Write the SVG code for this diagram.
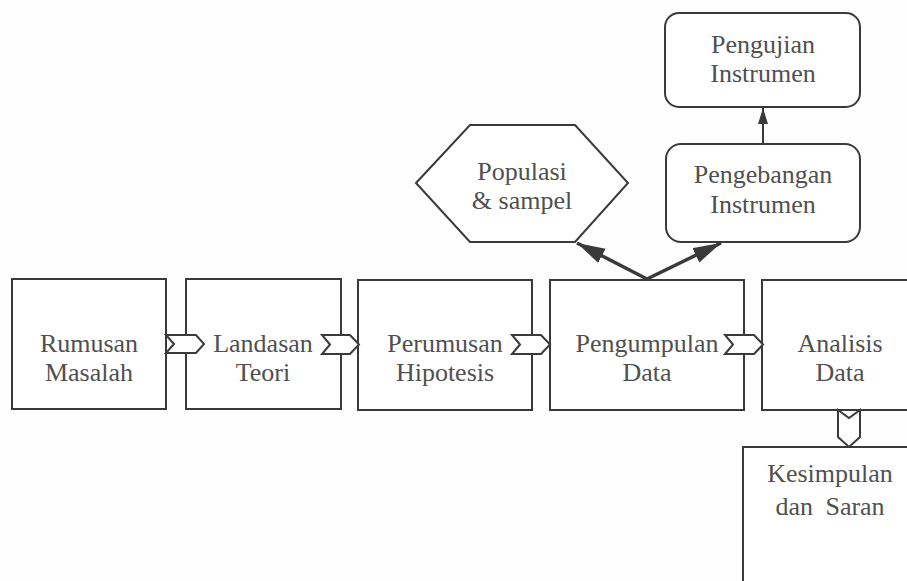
<svg xmlns="http://www.w3.org/2000/svg" width="907" height="581" viewBox="0 0 907 581">
<style>
.box{fill:#fff;stroke:#3a3a3a;stroke-width:2}
.chev{fill:#fff;stroke:#3a3a3a;stroke-width:2;stroke-linejoin:miter}
.t{font-family:"Liberation Serif","Times New Roman",serif;font-size:26px;fill:#505050;text-anchor:middle}
.arr{stroke:#3a3a3a;stroke-width:3.5;fill:none}
.arr2{stroke:#3a3a3a;stroke-width:2;fill:none}
</style>
<defs>
<marker id="ah" markerUnits="userSpaceOnUse" markerWidth="32" markerHeight="20" refX="28" refY="8" orient="auto">
<path d="M0,0 L28,8 L0,16 Z" fill="#3a3a3a"/>
</marker>
<marker id="ah2" markerUnits="userSpaceOnUse" markerWidth="20" markerHeight="12" refX="16" refY="5" orient="auto">
<path d="M0,0 L16,5 L0,10 Z" fill="#3a3a3a"/>
</marker>
</defs>
<rect width="907" height="581" fill="#fefefe"/>
<g id="pengujian">
<rect class="box" x="665" y="13" width="195" height="94" rx="14"/>
<text class="t" x="763" y="53">Pengujian</text>
<text class="t" x="763" y="82">Instrumen</text>
</g>
<g id="pengembangan">
<rect class="box" x="666" y="144" width="194" height="98" rx="15"/>
<text class="t" x="763" y="183">Pengebangan</text>
<text class="t" x="763" y="213">Instrumen</text>
</g>
<g id="populasi">
<polygon class="box" points="416,183 470,125 575,125 628,183 575,242 470,242"/>
<text class="t" x="522" y="180">Populasi</text>
<text class="t" x="522" y="209">&amp; sampel</text>
</g>
<g id="rumusan">
<rect class="box" x="12" y="279" width="154" height="130"/>
<text class="t" x="89" y="352">Rumusan</text>
<text class="t" x="89" y="381">Masalah</text>
</g>
<g id="landasan">
<rect class="box" x="186" y="279" width="155" height="130"/>
<text class="t" x="263" y="352">Landasan</text>
<text class="t" x="263" y="381">Teori</text>
</g>
<g id="perumusan">
<rect class="box" x="358" y="280" width="174" height="130"/>
<text class="t" x="445" y="352">Perumusan</text>
<text class="t" x="445" y="381">Hipotesis</text>
</g>
<g id="pengumpulan">
<rect class="box" x="550" y="280" width="194" height="130"/>
<text class="t" x="647" y="352">Pengumpulan</text>
<text class="t" x="647" y="381">Data</text>
</g>
<g id="analisis">
<rect class="box" x="762" y="280" width="156" height="130"/>
<text class="t" x="840" y="352">Analisis</text>
<text class="t" x="840" y="381">Data</text>
</g>
<g id="kesimpulan">
<rect class="box" x="743" y="447" width="174" height="150"/>
<text class="t" x="830" y="482">Kesimpulan</text>
<text class="t" x="830" y="515" word-spacing="6">dan Saran</text>
</g>
<g id="connectors">
<polygon class="chev" points="166,335 196,335 204,344 196,353 166,353 174,344"/>
<polygon class="chev" points="322,335 350,335 359,344.5 350,354 322,354 330,344.5"/>
<polygon class="chev" points="512,335 541,335 550,344.5 541,354 512,354 520,344.5"/>
<polygon class="chev" points="725,335 754,335 763,344.5 754,354 725,354 733,344.5"/>
<polygon class="chev" points="838,410 849,418 860,410 860,437 849,447 838,437"/>
<line class="arr" x1="647" y1="279" x2="577" y2="243" marker-end="url(#ah)"/>
<line class="arr" x1="647" y1="279" x2="721" y2="243" marker-end="url(#ah)"/>
<line class="arr2" x1="763" y1="144" x2="763" y2="108" marker-end="url(#ah2)"/>
</g>
</svg>
